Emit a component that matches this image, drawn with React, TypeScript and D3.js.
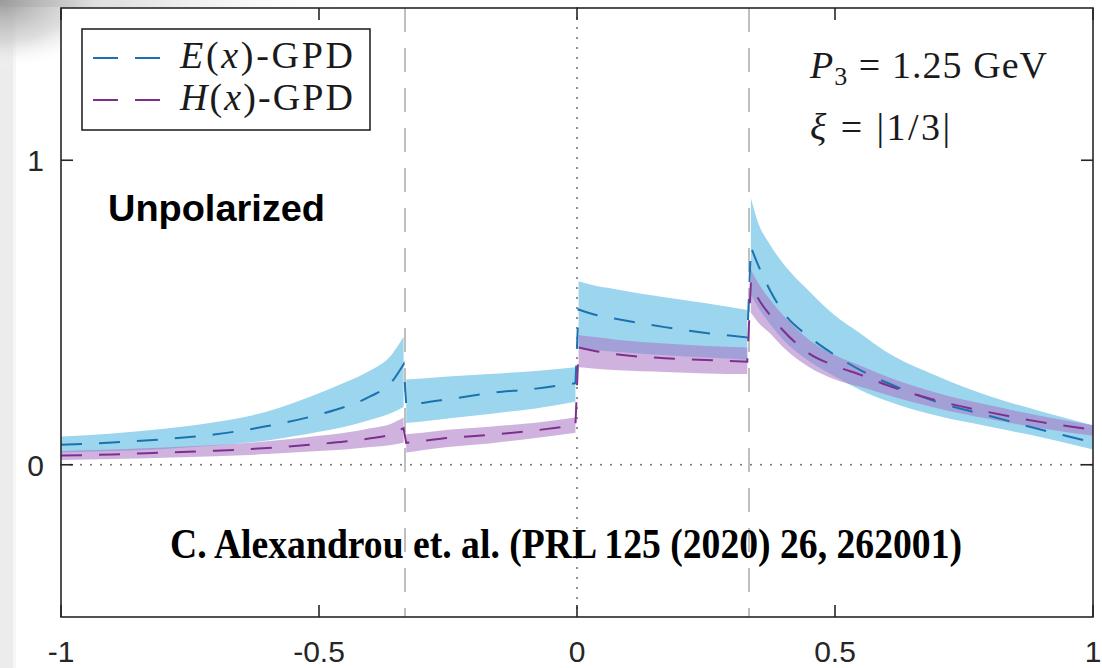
import React from "react";
import * as d3 from "d3";

const W = 1102;
const H = 668;
const box = { left: 61, right: 1093, top: 8, bottom: 617 };

// x-axis / y-axis ticks
const xTicks = [-1, -0.5, 0, 0.5, 1];
const xTickLabels = ["-1", "-0.5", "0", "0.5", "1"];
const yTicks = [0, 1];
const yTickLabels = ["0", "1"];
const xiLines = [-1 / 3, 1 / 3];

// segment 1: -1 .. -1/3
const x1 = [-1, -0.9, -0.8, -0.7, -0.6, -0.5, -0.45, -0.4, -0.36, -0.336];
const eMid1 = [0.066, 0.073, 0.084, 0.1, 0.127, 0.165, 0.19, 0.225, 0.27, 0.33];
const eHi1 = [0.093, 0.103, 0.118, 0.14, 0.175, 0.235, 0.27, 0.31, 0.36, 0.42];
const eLo1 = [0.04, 0.045, 0.052, 0.063, 0.08, 0.108, 0.125, 0.148, 0.17, 0.19];
const hMid1 = [0.03, 0.034, 0.04, 0.046, 0.055, 0.068, 0.076, 0.087, 0.1, 0.12];
const hHi1 = [0.045, 0.05, 0.057, 0.065, 0.077, 0.095, 0.105, 0.12, 0.135, 0.155];
const hLo1 = [0.016, 0.019, 0.023, 0.028, 0.035, 0.045, 0.05, 0.058, 0.065, 0.072];

// segment 2: -1/3 .. 0
const x2 = [-0.331, -0.3, -0.25, -0.17, -0.08, -0.003];
const eMid2 = [0.197, 0.203, 0.215, 0.235, 0.25, 0.268];
const eHi2 = [0.28, 0.283, 0.29, 0.298, 0.308, 0.32];
const eLo2 = [0.137, 0.142, 0.152, 0.167, 0.185, 0.207];
const hMid2 = [0.072, 0.078, 0.088, 0.098, 0.113, 0.13];
const hHi2 = [0.1, 0.105, 0.115, 0.125, 0.138, 0.155];
const hLo2 = [0.04, 0.048, 0.058, 0.07, 0.088, 0.105];

// segment 3: 0 .. 1/3
const x3 = [0.003, 0.03, 0.08, 0.17, 0.25, 0.33];
const eMid3 = [0.51, 0.495, 0.478, 0.452, 0.433, 0.418];
const eHi3 = [0.603, 0.59, 0.575, 0.55, 0.53, 0.508];
const eLo3 = [0.384, 0.378, 0.37, 0.36, 0.352, 0.345];
const hMid3 = [0.385, 0.375, 0.362, 0.35, 0.344, 0.338];
const hHi3 = [0.426, 0.42, 0.41, 0.398, 0.39, 0.385];
const hLo3 = [0.32, 0.316, 0.31, 0.305, 0.3, 0.298];

// segment 4: 1/3 .. 1
const x4 = [0.337, 0.35, 0.375, 0.4, 0.45, 0.5, 0.55, 0.6, 0.7, 0.8, 0.9, 1.0];
const eMid4 = [0.715, 0.66, 0.57, 0.5, 0.42, 0.36, 0.31, 0.27, 0.205, 0.16, 0.115, 0.073];
const eHi4 = [0.875, 0.8, 0.72, 0.66, 0.57, 0.49, 0.43, 0.37, 0.29, 0.225, 0.175, 0.13];
const eLo4 = [0.56, 0.52, 0.46, 0.41, 0.34, 0.29, 0.245, 0.21, 0.16, 0.125, 0.09, 0.05];
const hMid4 = [0.6, 0.55, 0.49, 0.44, 0.365, 0.325, 0.295, 0.262, 0.21, 0.172, 0.14, 0.115];
const hHi4 = [0.64, 0.6, 0.54, 0.49, 0.41, 0.36, 0.325, 0.29, 0.235, 0.195, 0.16, 0.13];
const hLo4 = [0.5, 0.47, 0.43, 0.385, 0.32, 0.28, 0.255, 0.23, 0.185, 0.15, 0.12, 0.095];

const segX = [x1, x2, x3, x4];
const eMid = [eMid1, eMid2, eMid3, eMid4];
const eHi = [eHi1, eHi2, eHi3, eHi4];
const eLo = [eLo1, eLo2, eLo3, eLo4];
const hMid = [hMid1, hMid2, hMid3, hMid4];
const hHi = [hHi1, hHi2, hHi3, hHi4];
const hLo = [hLo1, hLo2, hLo3, hLo4];

const E_BAND = "#9cd5ee";
const H_BAND = "#a875c3";
const E_LINE = "#1b72b0";
const H_LINE = "#7e2f8e";

export default function App() {
  const xs = d3.scaleLinear().domain([-1, 1]).range([box.left, box.right]);
  const ys = d3.scaleLinear().domain([-0.5, 1.5]).range([box.bottom, box.top]);

  type P = { x: number; lo: number; hi: number };
  const area = d3
    .area<P>()
    .x((d) => xs(d.x))
    .y0((d) => ys(d.lo))
    .y1((d) => ys(d.hi))
    .curve(d3.curveMonotoneX);

  const line = d3
    .line<[number, number]>()
    .x((d) => xs(d[0]))
    .y((d) => ys(d[1]))
    .curve(d3.curveMonotoneX);

  const bandPath = (lo: number[][], hi: number[][], k: number) =>
    area(segX[k].map((x, i) => ({ x, lo: lo[k][i], hi: hi[k][i] }))) || "";

  // one continuous dashed path across the jumps
  const joined = (mid: number[][]) =>
    segX
      .map((xv, k) => {
        const p = line(xv.map((x, i) => [x, mid[k][i]] as [number, number])) || "";
        return k === 0 ? p : "L" + p.slice(1);
      })
      .join("");

  const tickLen = 12;

  return (
    <svg
      width={W}
      height={H}
      style={{ position: "absolute", left: 0, top: 0, background: "#fff" }}
    >
      <defs>
        <radialGradient id="corner" cx="0" cy="0" r="1" gradientUnits="objectBoundingBox">
          <stop offset="0" stopColor="#9a9a9a" stopOpacity="1" />
          <stop offset="0.6" stopColor="#c8c8c8" stopOpacity="0.6" />
          <stop offset="1" stopColor="#ffffff" stopOpacity="0" />
        </radialGradient>
        <linearGradient id="topstrip" x1="0" x2="1" y1="0" y2="0">
          <stop offset="0" stopColor="#c0c0c0" stopOpacity="1" />
          <stop offset="1" stopColor="#ffffff" stopOpacity="0" />
        </linearGradient>
      </defs>

      {/* page edge shading */}
      <rect x={0} y={0} width={13} height={H} fill="#ececec" />
      <rect x={13} y={0} width={3} height={H} fill="#f6f6f6" />
      <rect x={0} y={0} width={380} height={7} fill="url(#topstrip)" />
      <rect x={0} y={0} width={120} height={70} fill="url(#corner)" />

      {/* axes background */}
      <rect
        x={box.left}
        y={box.top}
        width={box.right - box.left}
        height={box.bottom - box.top}
        fill="#fff"
      />

      {/* xi = +-1/3 lines */}
      {xiLines.map((v) => (
        <line
          key={v}
          x1={xs(v)}
          x2={xs(v)}
          y1={box.top}
          y2={box.bottom}
          stroke="#b0b0b0"
          strokeWidth={1.6}
          strokeDasharray="24,16"
        />
      ))}
      {/* zero lines */}
      <line
        x1={xs(0)}
        x2={xs(0)}
        y1={box.top}
        y2={box.bottom}
        stroke="#7a7a7a"
        strokeWidth={2.2}
        strokeLinecap="round"
        strokeDasharray="0,10"
      />
      <line
        x1={box.left}
        x2={box.right}
        y1={ys(0)}
        y2={ys(0)}
        stroke="#7a7a7a"
        strokeWidth={2.2}
        strokeLinecap="round"
        strokeDasharray="0,10"
      />

      {/* error bands */}
      {segX.map((_, k) => (
        <path key={"e" + k} d={bandPath(eLo, eHi, k)} fill={E_BAND} />
      ))}
      {segX.map((_, k) => (
        <path key={"h" + k} d={bandPath(hLo, hHi, k)} fill={H_BAND} fillOpacity={0.55} />
      ))}

      {/* central values */}
      <path d={joined(eMid)} fill="none" stroke={E_LINE} strokeWidth={2} strokeDasharray="21,17" />
      <path d={joined(hMid)} fill="none" stroke={H_LINE} strokeWidth={2} strokeDasharray="21,17" />

      {/* axes box */}
      <rect
        x={box.left}
        y={box.top}
        width={box.right - box.left}
        height={box.bottom - box.top}
        fill="none"
        stroke="#262626"
        strokeWidth={1.6}
      />
      {xTicks.map((t) => (
        <g key={"xt" + t} stroke="#262626" strokeWidth={1.6}>
          <line x1={xs(t)} x2={xs(t)} y1={box.bottom} y2={box.bottom - tickLen} />
          <line x1={xs(t)} x2={xs(t)} y1={box.top} y2={box.top + tickLen} />
        </g>
      ))}
      {yTicks.map((t) => (
        <g key={"yt" + t} stroke="#262626" strokeWidth={1.6}>
          <line x1={box.left} x2={box.left + tickLen} y1={ys(t)} y2={ys(t)} />
          <line x1={box.right} x2={box.right - tickLen} y1={ys(t)} y2={ys(t)} />
        </g>
      ))}
      <g fontFamily="Liberation Sans, Arial, sans-serif" fontSize={30} fill="#262626">
        {xTicks.map((t, i) => (
          <text key={"xl" + t} x={xs(t)} y={662} textAnchor="middle">
            {xTickLabels[i]}
          </text>
        ))}
        {yTicks.map((t, i) => (
          <text key={"yl" + t} x={44} y={ys(t) + 11} textAnchor="end">
            {yTickLabels[i]}
          </text>
        ))}
      </g>

      {/* legend */}
      <rect x={82} y={29} width={288} height={101} fill="#fff" stroke="#262626" strokeWidth={1.6} />
      <line x1={93} x2={160} y1={58} y2={58} stroke={E_LINE} strokeWidth={2.2} strokeDasharray="25,17" />
      <line x1={93} x2={160} y1={100} y2={100} stroke={H_LINE} strokeWidth={2.2} strokeDasharray="25,17" />
      <g fontFamily="Liberation Serif, Times New Roman, serif" fontSize={38} fill="#1a1a1a">
        <text x={180} y={68} textLength={173} lengthAdjust="spacing">
          <tspan fontStyle="italic">E</tspan>(<tspan fontStyle="italic">x</tspan>)-GPD
        </text>
        <text x={180} y={110} textLength={173} lengthAdjust="spacing">
          <tspan fontStyle="italic">H</tspan>(<tspan fontStyle="italic">x</tspan>)-GPD
        </text>
        <text x={810} y={78} textLength={237} lengthAdjust="spacing">
          <tspan fontStyle="italic">P</tspan>
          <tspan fontSize={26} dy={7}>3</tspan>
          <tspan dy={-7}> = 1.25 GeV</tspan>
        </text>
        <text x={810} y={140} textLength={140} lengthAdjust="spacing">
          <tspan fontStyle="italic">ξ</tspan> = |1/3|
        </text>
      </g>

      <text
        x={108}
        y={221}
        fontFamily="Liberation Sans, Arial, sans-serif"
        fontWeight="bold"
        fontSize={36}
        textLength={217}
        lengthAdjust="spacingAndGlyphs"
        fill="#000"
      >
        Unpolarized
      </text>

      <text
        x={170}
        y={558}
        fontFamily="Liberation Serif, Times New Roman, serif"
        fontWeight="bold"
        fontSize={42}
        textLength={792}
        lengthAdjust="spacingAndGlyphs"
        fill="#000"
      >
        C. Alexandrou et. al. (PRL 125 (2020) 26, 262001)
      </text>
    </svg>
  );
}
